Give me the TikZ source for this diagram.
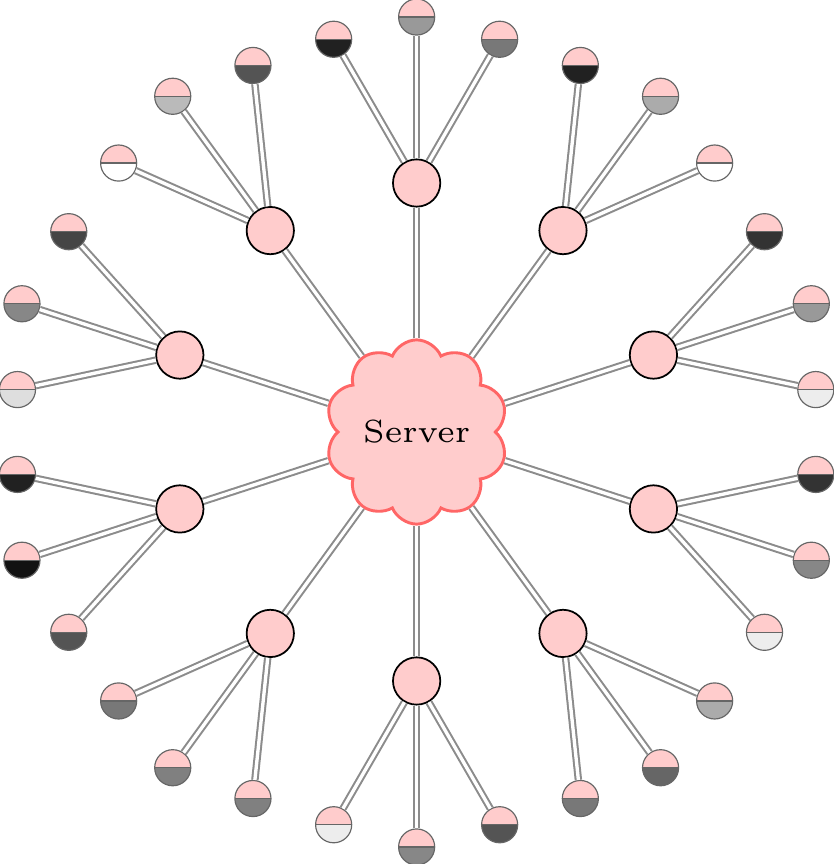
\documentclass[tikz,border=0pt]{standalone}
\usepackage{tikz}
\usetikzlibrary{shapes.symbols}

\begin{document}
\begin{tikzpicture}[-,line width=0.7pt,double distance=1.15pt,
		every edge/.style={draw=black!45,double=white},
		server node/.style={cloud,cloud puffs=10,cloud puff arc=135,aspect=0.96,draw=red!60,fill=red!20,line width=1pt,minimum width=2.2cm,minimum height=2.22cm,inner sep=0pt},
		mid node/.style={circle,draw=black,fill=red!20,semithick,minimum size=0.57cm,inner sep=0pt},
		leaf node/.style={circle,draw=black!60,thin,inner sep=0pt,minimum size=0.435cm,
			path picture={
				\fill[red!20] (path picture bounding box.west) rectangle (path picture bounding box.north east);
				\fill[black!#1] (path picture bounding box.west) rectangle (path picture bounding box.south east);
				\draw[black!60,thin] (path picture bounding box.west) -- (path picture bounding box.east);
			}}]
		\useasboundingbox (-5.02,-5.205) rectangle (5.02,5.205);
		\node[server node] (server) {\scalebox{1.83}{\fontsize{6}{7}\selectfont Server}};
		\foreach \ang/\shadea/\shadeb/\shadec [count=\i] in {
			90/87/40/53,54/87/33/0,18/80/40/7,-18/80/47/7,-54/33/60/53,
			-90/67/47/7,-126/50/50/53,-162/67/93/87,162/13/47/73,126/0/27/67}
		{
			\node[mid node] (mid\i) at (\ang:3) {};
			\path (server) edge (mid\i);
			\node[leaf node=\shadea] (leaf\i a) at ([shift={(\ang+30:2)}]mid\i) {};
			\node[leaf node=\shadeb] (leaf\i b) at ([shift={(\ang:2)}]mid\i) {};
			\node[leaf node=\shadec] (leaf\i c) at ([shift={(\ang-30:2)}]mid\i) {};
			\path (mid\i) edge (leaf\i a) edge (leaf\i b) edge (leaf\i c);
		}
\end{tikzpicture}
\end{document}
